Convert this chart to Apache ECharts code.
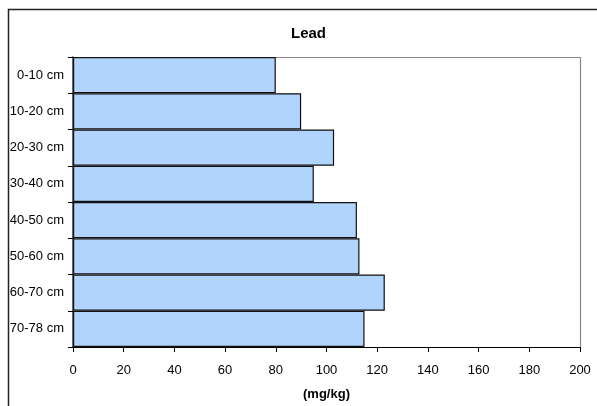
<!DOCTYPE html>
<html>
<head>
<meta charset="utf-8">
<script src="https://cdn.jsdelivr.net/npm/echarts@6/dist/echarts.min.js"></script>
<style>
  html, body { margin: 0; padding: 0; background: #fff; }
  #chart { width: 597px; height: 406px; }
</style>
</head>
<body>
<div id="chart"></div>
<script>
// Soil depth intervals and lead concentration (mg/kg)
const depths = ['0-10 cm', '10-20 cm', '20-30 cm', '30-40 cm', '40-50 cm', '50-60 cm', '60-70 cm', '70-78 cm'];
const lead = [80, 90, 103, 95, 112, 113, 123, 115];
const xMin = 0, xMax = 200, xStep = 20;

const chart = echarts.init(document.getElementById('chart'), null, { renderer: 'canvas' });
const font = 'Liberation Sans, Arial, sans-serif';

chart.setOption({
  animation: false,
  backgroundColor: '#fff',
  title: {
    text: 'Lead',
    left: 286,
    top: 21,
    textStyle: { fontFamily: font, fontSize: 15, fontWeight: 'bold', color: '#000' }
  },
  graphic: [
    {
      type: 'rect',
      shape: { x: 8.5, y: 9.5, width: 700, height: 500 },
      style: { fill: 'none', stroke: '#222', lineWidth: 1.5 },
      silent: true
    },
    {
      // plot-area frame on the top and right sides
      type: 'polyline',
      shape: { points: [[73, 57.5], [580.5, 57.5], [580.5, 347]] },
      style: { fill: 'none', stroke: '#8a8a8a', lineWidth: 1.2 },
      silent: true,
      z: 1
    }
  ],
  grid: { left: 73, right: 17, top: 57, bottom: 59, containLabel: false },
  xAxis: {
    type: 'value',
    min: xMin, max: xMax, interval: xStep,
    name: '(mg/kg)',
    nameLocation: 'middle',
    nameGap: 41,
    nameTextStyle: { fontFamily: font, fontSize: 13, fontWeight: 'bold', color: '#000' },
    axisLine: { show: true, lineStyle: { color: '#000', width: 1.2 } },
    axisTick: { show: true, inside: false, length: 5, lineStyle: { color: '#000' } },
    axisLabel: { fontFamily: font, fontSize: 13, color: '#000', margin: 17 },
    splitLine: { show: false }
  },
  yAxis: {
    type: 'category',
    data: depths,
    inverse: true,
    axisLine: { show: true, lineStyle: { color: '#333', width: 1.5 } },
    axisTick: { show: true, inside: false, length: 5, alignWithLabel: false, lineStyle: { color: '#000' } },
    axisLabel: { fontFamily: font, fontSize: 13, color: '#000', margin: 9 },
    splitLine: { show: false }
  },
  series: [{
    type: 'bar',
    data: lead,
    barCategoryGap: 0,
    itemStyle: { color: '#b0d4fd', borderColor: '#111', borderWidth: 1.2 },
    z: 2
  }]
});
</script>
</body>
</html>
